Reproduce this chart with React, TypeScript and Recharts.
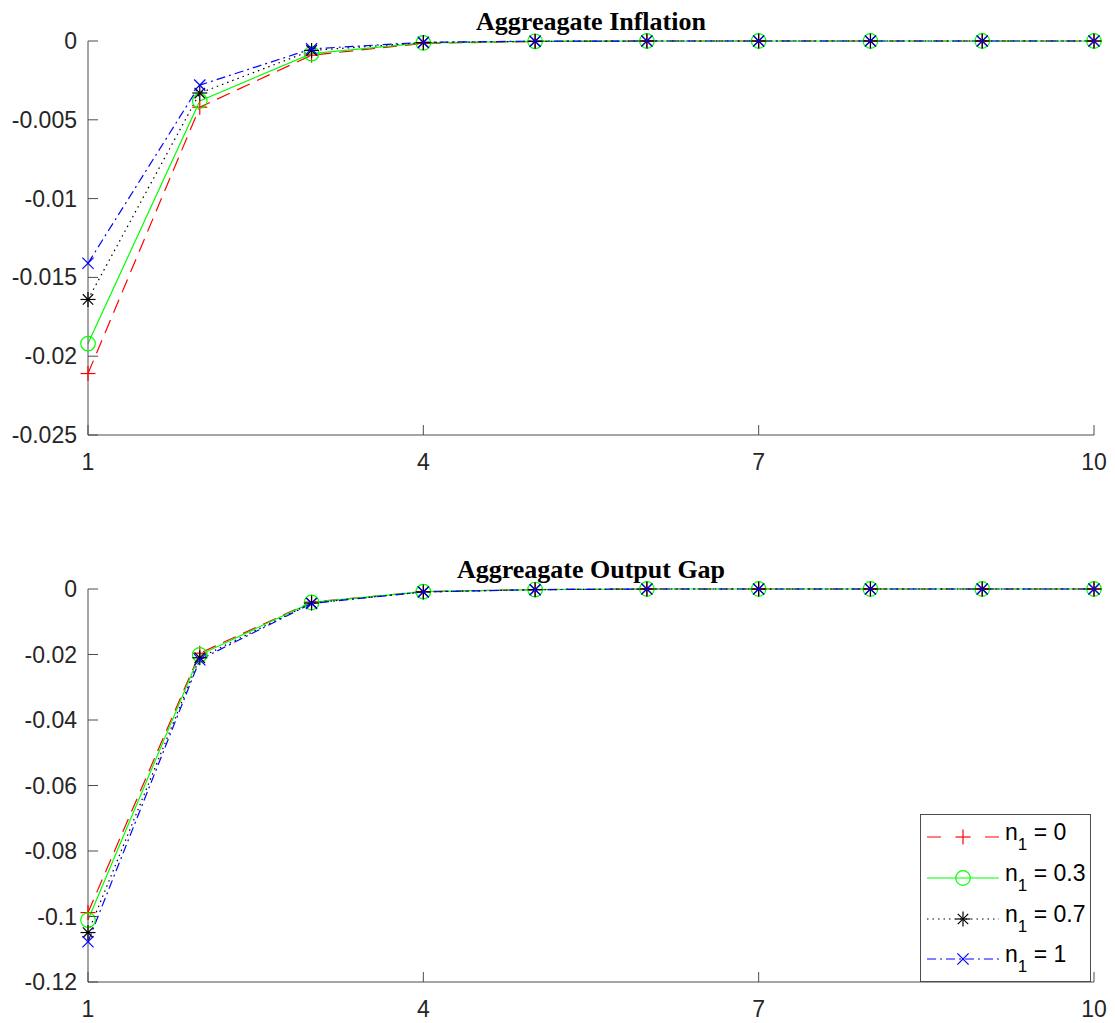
import React from 'react';
import { LineChart, Line, XAxis, YAxis, Legend, Customized } from 'recharts';

const periods = [1, 2, 3, 4, 5, 6, 7, 8, 9, 10];

const inflN0 = [-0.0211, -0.0042, -0.0009, -0.00015, -0.00003, 0, 0, 0, 0, 0];
const inflN03 = [-0.0192, -0.0038, -0.0008, -0.00012, -0.00002, 0, 0, 0, 0, 0];
const inflN07 = [-0.0164, -0.0033, -0.0006, -0.0001, -0.00002, 0, 0, 0, 0, 0];
const inflN1 = [-0.0141, -0.0028, -0.0005, -0.00008, -0.00001, 0, 0, 0, 0, 0];

const gapN0 = [-0.0988, -0.0196, -0.004, -0.0008, -0.00017, 0, 0, 0, 0, 0];
const gapN03 = [-0.1011, -0.0201, -0.0041, -0.0008, -0.00017, 0, 0, 0, 0, 0];
const gapN07 = [-0.1049, -0.021, -0.0043, -0.0009, -0.0002, 0, 0, 0, 0, 0];
const gapN1 = [-0.1077, -0.0216, -0.0044, -0.0009, -0.0002, 0, 0, 0, 0, 0];

const xTicks = [1, 4, 7, 10];
const xTickLabels = ['1', '4', '7', '10'];
const inflTicks = [-0.025, -0.02, -0.015, -0.01, -0.005, 0];
const inflTickLabels = ['-0.025', '-0.02', '-0.015', '-0.01', '-0.005', '0'];
const gapTicks = [-0.12, -0.1, -0.08, -0.06, -0.04, -0.02, 0];
const gapTickLabels = ['-0.12', '-0.1', '-0.08', '-0.06', '-0.04', '-0.02', '0'];

const seriesNames = ['n0', 'n03', 'n07', 'n1'];
const seriesValues = ['0', '0.3', '0.7', '1'];

const styles: Record<string, any> = {
  n0: { color: '#ff0000', dash: '14 8', legendDash: '14 44 14', marker: 'plus' },
  n03: { color: '#00ff00', dash: undefined, legendDash: undefined, marker: 'circle' },
  n07: { color: '#000000', dash: '1.5 4', legendDash: '1.5 4', marker: 'star' },
  n1: { color: '#0000ff', dash: '9 4 2 4', legendDash: '9 4 2 4', marker: 'x' },
};

const inflData = periods.map((t, i) => ({ t, n0: inflN0[i], n03: inflN03[i], n07: inflN07[i], n1: inflN1[i] }));
const gapData = periods.map((t, i) => ({ t, n0: gapN0[i], n03: gapN03[i], n07: gapN07[i], n1: gapN1[i] }));

const FONT = '"Liberation Sans", Arial, Helvetica, sans-serif';
const AX = '#4d4d4d';
const TXT = '#262626';
const TICK_FS = 23;

function markerShape(kind: string, cx: number, cy: number, color: string, key?: any) {
  const s = 7.5;
  if (kind === 'plus') {
    return (
      <g key={key}>
        <line x1={cx - s} x2={cx + s} y1={cy} y2={cy} stroke={color} strokeWidth={1.2} />
        <line x1={cx} x2={cx} y1={cy - s} y2={cy + s} stroke={color} strokeWidth={1.2} />
      </g>
    );
  }
  if (kind === 'circle') {
    return <circle key={key} cx={cx} cy={cy} r={7.3} fill="none" stroke={color} strokeWidth={1.2} />;
  }
  if (kind === 'star') {
    const d = 5.2;
    return (
      <g key={key}>
        <line x1={cx - s} x2={cx + s} y1={cy} y2={cy} stroke={color} strokeWidth={1.2} />
        <line x1={cx} x2={cx} y1={cy - s} y2={cy + s} stroke={color} strokeWidth={1.2} />
        <line x1={cx - d} x2={cx + d} y1={cy - d} y2={cy + d} stroke={color} strokeWidth={1.2} />
        <line x1={cx - d} x2={cx + d} y1={cy + d} y2={cy - d} stroke={color} strokeWidth={1.2} />
      </g>
    );
  }
  const d = 5.6;
  return (
    <g key={key}>
      <line x1={cx - d} x2={cx + d} y1={cy - d} y2={cy + d} stroke={color} strokeWidth={1.2} />
      <line x1={cx - d} x2={cx + d} y1={cy + d} y2={cy - d} stroke={color} strokeWidth={1.2} />
    </g>
  );
}

function makeDot(name: string) {
  const st = styles[name];
  return (props: any) => {
    const { cx, cy, index } = props;
    if (cx == null || cy == null) return <g key={`${name}-${index}`} />;
    return markerShape(st.marker, cx, cy, st.color, `${name}-${index}`);
  };
}

const XTick = (props: any) => {
  const { x, y, payload } = props;
  const idx = xTicks.indexOf(payload.value);
  return (
    <g>
      <line x1={x} x2={x} y1={y} y2={y - 10} stroke={AX} strokeWidth={1} />
      <text x={x} y={y + 35} textAnchor="middle" fontFamily={FONT} fontSize={TICK_FS} fill={TXT}>
        {idx >= 0 ? xTickLabels[idx] : String(payload.value)}
      </text>
    </g>
  );
};

function makeYTick(ticks: number[], labels: string[]) {
  return (props: any) => {
    const { x, y, payload } = props;
    let idx = -1;
    ticks.forEach((t, i) => {
      if (Math.abs(t - payload.value) < 1e-9) idx = i;
    });
    return (
      <g>
        <line x1={x} x2={x + 10} y1={y} y2={y} stroke={AX} strokeWidth={1} />
        <text x={x - 11} y={y + 8} textAnchor="end" fontFamily={FONT} fontSize={TICK_FS} fill={TXT}>
          {idx >= 0 ? labels[idx] : String(payload.value)}
        </text>
      </g>
    );
  };
}

function makeTitle(title: string) {
  return (props: any) => {
    const off = props.offset || {};
    const cx = (off.left ?? 88) + (off.width ?? 1006) / 2;
    return (
      <text x={cx} y={30} textAnchor="middle" fontFamily='"Liberation Serif", "Times New Roman", serif' fontWeight="bold" fontSize={26} fill="#000">
        {title}
      </text>
    );
  };
}

const LegendBox = () => {
  const w = 171;
  const h = 168;
  const rows = [23, 64, 105, 145];
  return (
    <svg width={w} height={h} style={{ display: 'block' }}>
      <rect x={0.5} y={0.5} width={w - 1} height={h - 1} fill="#fff" stroke={AX} strokeWidth={1} />
      {seriesNames.map((n, i) => {
        const st = styles[n];
        const y = rows[i];
        return (
          <g key={n}>
            <line x1={7} x2={79} y1={y} y2={y} stroke={st.color} strokeWidth={1.2} strokeDasharray={st.legendDash} />
            {markerShape(st.marker, 43, y, st.color)}
            <text x={85} y={y + 3} fontFamily={FONT} fontSize={TICK_FS} fill="#000">
              n
              <tspan fontSize={17} dy={10}>1</tspan>
              <tspan fontSize={TICK_FS} dy={-10}>{` = ${seriesValues[i]}`}</tspan>
            </text>
          </g>
        );
      })}
    </svg>
  );
};

function renderLines() {
  return seriesNames.map((n) => (
    <Line
      key={n}
      type="linear"
      dataKey={n}
      stroke={styles[n].color}
      strokeWidth={1.2}
      strokeDasharray={styles[n].dash}
      dot={makeDot(n)}
      activeDot={false}
      isAnimationActive={false}
    />
  ));
}

export default function App() {
  return (
    <div style={{ position: 'absolute', left: 0, top: 0, width: 1115, height: 1023, background: '#fff' }}>
      <div style={{ position: 'absolute', left: 0, top: 0 }}>
        <LineChart width={1115} height={480} data={inflData} margin={{ top: 41, right: 21, left: 0, bottom: 0 }}>
          <XAxis
            dataKey="t"
            type="number"
            domain={[1, 10]}
            ticks={xTicks}
            interval={0}
            height={45}
            tickSize={0}
            tickMargin={0}
            tickLine={false}
            axisLine={{ stroke: AX, strokeWidth: 1 }}
            tick={XTick}
          />
          <YAxis
            type="number"
            domain={[-0.025, 0]}
            ticks={inflTicks}
            interval={0}
            width={88}
            tickSize={0}
            tickMargin={0}
            tickLine={false}
            axisLine={{ stroke: AX, strokeWidth: 1 }}
            tick={makeYTick(inflTicks, inflTickLabels)}
          />
          {renderLines()}
          <Customized component={makeTitle('Aggreagate Inflation')} />
        </LineChart>
      </div>
      <div style={{ position: 'absolute', left: 0, top: 548 }}>
        <LineChart width={1115} height={475} data={gapData} margin={{ top: 41, right: 21, left: 0, bottom: 0 }}>
          <XAxis
            dataKey="t"
            type="number"
            domain={[1, 10]}
            ticks={xTicks}
            interval={0}
            height={41}
            tickSize={0}
            tickMargin={0}
            tickLine={false}
            axisLine={{ stroke: AX, strokeWidth: 1 }}
            tick={XTick}
          />
          <YAxis
            type="number"
            domain={[-0.12, 0]}
            ticks={gapTicks}
            interval={0}
            width={88}
            tickSize={0}
            tickMargin={0}
            tickLine={false}
            axisLine={{ stroke: AX, strokeWidth: 1 }}
            tick={makeYTick(gapTicks, gapTickLabels)}
          />
          {renderLines()}
          <Customized component={makeTitle('Aggreagate Output Gap')} />
          <Legend
            layout="vertical"
            align="center"
            verticalAlign="middle"
            content={LegendBox}
            wrapperStyle={{ position: 'absolute', left: 920, top: 266, width: 171, height: 168 }}
          />
        </LineChart>
      </div>
    </div>
  );
}
